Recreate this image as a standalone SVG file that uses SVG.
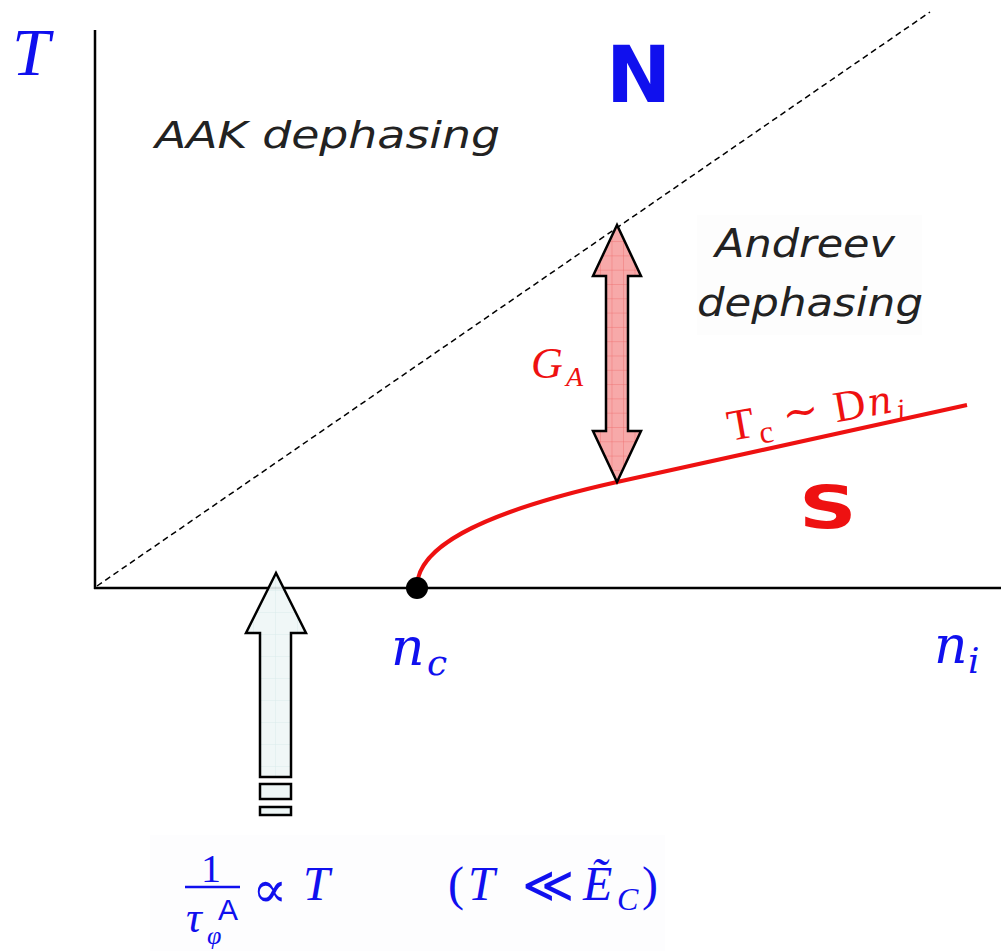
<svg xmlns="http://www.w3.org/2000/svg" width="1001" height="951" viewBox="0 0 1001 951">
<style>
.math{font-family:"Liberation Serif","DejaVu Serif",serif;font-style:italic;fill:#1010ee}
.mn{font-family:"DejaVu Serif","Liberation Serif",serif;font-style:italic;fill:#1010ee}
.rm{font-family:"Liberation Serif","DejaVu Serif",serif;fill:#1010ee}
.lbl{font-family:"DejaVu Sans","Liberation Sans",sans-serif;font-style:italic;fill:#222}
.big{font-family:"DejaVu Sans","Liberation Sans",sans-serif;font-weight:bold}
.red{fill:#ee1111}
.axis{stroke:#000;stroke-width:2.5;fill:none}
</style>
<defs>
<pattern id="gridR" patternUnits="userSpaceOnUse" x="600" y="284" width="11.5" height="14.3">
<rect width="11.5" height="14.3" fill="#f7a9a9"/>
<path d="M0 0H11.5M0 0V14.3" stroke="#ee6a6a" stroke-width="0.8"/>
</pattern>
<pattern id="gridB" patternUnits="userSpaceOnUse" x="253" y="590" width="22" height="22">
<rect width="22" height="22" fill="#eef6f6"/>
<path d="M0 0H22M0 0V22" stroke="#cfe6e6" stroke-width="0.8"/>
</pattern>
</defs>
<rect width="1001" height="951" fill="#fff"/>
<rect x="150" y="835" width="515" height="116" fill="#fdfdfe"/>
<rect x="697" y="215" width="225" height="120" fill="#fdfdfd"/>
<g id="connectors">
<line class="axis" x1="95" y1="30" x2="95" y2="589"/>
<line class="axis" x1="94" y1="588" x2="1001" y2="588"/>
<line x1="97" y1="586" x2="930" y2="12" stroke="#000" stroke-width="1.5" stroke-dasharray="6,4"/>
<path d="M417,586 C418,550 470,515 617,482 L967,405" fill="none" stroke="#ee1111" stroke-width="4"/>
</g>
<g id="node-T"><text class="math" x="12" y="75" font-size="68">T</text></g>
<g id="node-N"><text class="big" x="606" y="102" font-size="78" fill="#1010ee">N</text></g>
<g id="node-AAK"><text class="lbl" x="155" y="148" font-size="38" textLength="345" lengthAdjust="spacingAndGlyphs">AAK dephasing</text></g>
<g id="node-Andreev">
<text class="lbl" x="715" y="257" font-size="39" textLength="180" lengthAdjust="spacingAndGlyphs">Andreev</text>
<text class="lbl" x="697" y="316" font-size="39" textLength="226" lengthAdjust="spacingAndGlyphs">dephasing</text>
</g>
<g id="node-GA-arrow">
<polygon points="617,225 593,276 606,276 606,431 593,431 617,482 641,431 628,431 628,276 641,276" fill="url(#gridR)" stroke="#000" stroke-width="2.5" stroke-linejoin="miter"/>
<text class="math red" x="531" y="378" font-size="44">G</text>
<text class="math red" x="566" y="386" font-size="28">A</text>
</g>
<g id="node-Tc" transform="translate(730,441) rotate(-10)">
<text class="rm red" x="0" y="0" font-size="44">T</text>
<text class="rm red" x="30" y="8" font-size="32">c</text>
<text class="rm red" x="56" y="-2" font-size="44">∼</text>
<text class="rm red" x="108" y="0" font-size="44">D</text>
<text class="mn red" x="142" y="0" font-size="38">n</text>
<text class="mn red" x="170" y="8" font-size="26">i</text>
</g>
<g id="node-S"><text class="big" transform="translate(799,528) scale(1.38,1)" x="0" y="0" font-size="58" fill="#ee1111">S</text></g>
<g id="node-blue-arrow">
<polygon points="276,573 246,633 260,633 260,777 291,777 291,633 306,633" fill="url(#gridB)" fill-opacity="0.9" stroke="#000" stroke-width="2.5"/>
<rect x="260" y="784" width="31" height="15" fill="#eef6f6" stroke="#000" stroke-width="2.5"/>
<rect x="260" y="807" width="31" height="8" fill="#eef6f6" stroke="#000" stroke-width="2.5"/>
</g>
<g id="node-nc">
<circle cx="417" cy="588" r="11" fill="#000"/>
<text class="mn" x="391" y="665" font-size="52">n</text>
<text class="mn" x="427" y="675" font-size="36">c</text>
</g>
<g id="node-ni">
<text class="mn" x="934" y="663" font-size="52">n</text>
<text class="mn" x="968" y="673" font-size="36">i</text>
</g>
<g id="node-formula">
<text class="rm" x="201" y="882" font-size="40">1</text>
<line x1="185" y1="887" x2="240" y2="887" stroke="#1010ee" stroke-width="2.5"/>
<text class="math" x="186" y="932" font-size="44">τ</text>
<text x="218" y="920" font-size="30" fill="#1010ee" font-family="Liberation Sans, sans-serif">A</text>
<text class="math" x="207" y="944" font-size="26">φ</text>
<text x="252" y="907" font-size="52" fill="#1010ee" font-family="DejaVu Serif, serif">∝</text>
<text class="math" x="303" y="900" font-size="48">T</text>
<text class="rm" x="448" y="900" font-size="48">(</text>
<text class="math" x="468" y="900" font-size="48">T</text>
<text x="522" y="902" font-size="50" fill="#1010ee" font-family="DejaVu Serif, serif">≪</text>
<text class="math" x="583" y="900" font-size="48">Ẽ</text>
<text class="math" x="617" y="910" font-size="32">C</text>
<text class="rm" x="642" y="900" font-size="48">)</text>
</g>
</svg>
